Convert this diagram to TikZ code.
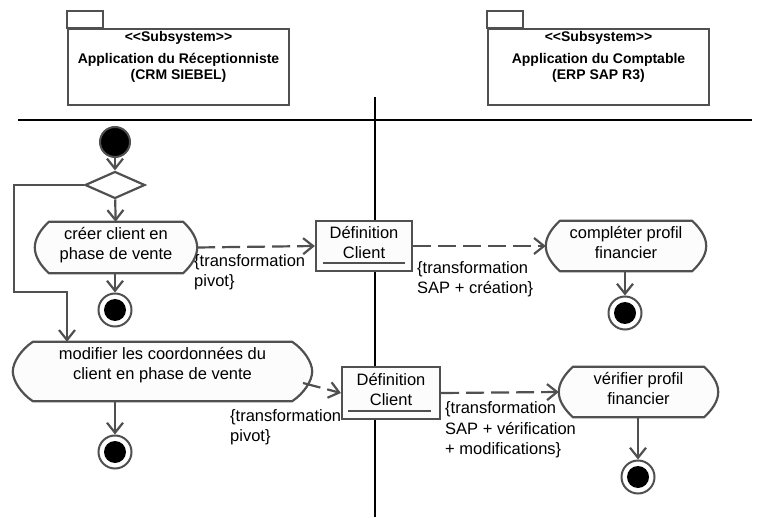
\documentclass[tikz,border=0pt]{standalone}
\usepackage{fontspec}
\setmainfont{Liberation Sans}
\usetikzlibrary{arrows.meta,shapes.geometric,calc,backgrounds}
\definecolor{lc}{HTML}{505050}
\definecolor{actfill}{HTML}{FCFCFC}
\newcommand{\bodyfont}{\fontsize{16.5}{20.5}\selectfont}
\newcommand{\headfont}{\fontsize{14}{16}\selectfont\bfseries}
\tikzset{
  ln/.style={draw=lc, line width=2.2pt},
  arr/.style={ln, -{Straight Barb[length=10pt,width=16pt]}},
  darr/.style={arr, dash pattern=on 18pt off 7pt},
  action/.style={rectangle, align=center, font=\bodyfont, inner sep=0pt},
  actline/.style={ln, fill=actfill, line join=round},
  objbox/.style={draw=lc, line width=2.2pt, fill=actfill, align=center,
    font=\bodyfont, inner sep=0pt},
  pkg/.style={draw=lc, line width=2pt, fill=white, inner sep=0pt,
    minimum width=221pt, minimum height=76pt},
  pkgtext/.style={align=center, font=\headfont, inner sep=0pt},
  startnode/.style={circle, fill=black, draw=lc, line width=2pt, minimum size=30pt, inner sep=0pt},
  finalnode/.style={circle, draw=lc, line width=2pt, fill=white, minimum size=33pt, inner sep=0pt,
    path picture={\fill[black] (path picture bounding box.center) circle (11pt);}},
  decision/.style={diamond, draw=lc, line width=2.2pt, fill=white, minimum width=60pt,
    minimum height=27pt, inner sep=0pt},
  lab/.style={align=left, font=\bodyfont, inner sep=0pt, anchor=west},
  lane/.style={draw=black, line width=1.4pt}
}
% outline of an action node: #1 node name, #2 corner inset
\newcommand{\actoutline}[2]{%
  \begin{scope}[on background layer]
  \draw[actline] ($(#1.north west)+(#2,0)$) -- ($(#1.north east)+(-#2,0)$)
    .. controls +(0.6*#2,8) and +(0,-9) .. (#1.east)
    .. controls +(0,9) and +(0.6*#2,-8) .. ($(#1.south east)+(-#2,0)$)
    -- ($(#1.south west)+(#2,0)$)
    .. controls +(-0.6*#2,-8) and +(0,9) .. (#1.west)
    .. controls +(0,-9) and +(-0.6*#2,8) .. ($(#1.north west)+(#2,0)$) -- cycle;
  \end{scope}}
\begin{document}
\begin{tikzpicture}[x=1pt,y=-1pt]
\path[use as bounding box] (0,0) rectangle (765,518);
% swimlanes
\coordinate (hl) at (18,120);
\coordinate (hr) at (752,120);
\coordinate (vt) at (375,97);
\coordinate (vb) at (375,517);
\draw[lane] (hl) -- (hr);
\draw[lane] (vt) -- (vb);
% packages
\node[pkg] (pkg1) at (178.5,67.5) {};
\draw[draw=lc, line width=2pt] (pkg1.north west) rectangle ++(36,-17);
\node[pkgtext] (pkg1s) at (178.5,38) {{<}{<}Subsystem{>}{>}};
\node[pkgtext] (pkg1n) at (178.5,68) {Application du Réceptionniste\\(CRM SIEBEL)};
\node[pkg] (pkg2) at (598.5,67.5) {};
\draw[draw=lc, line width=2pt] (pkg2.north west) rectangle ++(36,-17);
\node[pkgtext] (pkg2s) at (598.5,38) {{<}{<}Subsystem{>}{>}};
\node[pkgtext] (pkg2n) at (598.5,68) {Application du Comptable\\(ERP SAP R3)};
% nodes
\node[startnode] (start) at (115,142) {};
\node[decision] (dec) at (115,185) {};
\node[action, minimum width=162pt, minimum height=51pt] (act1) at (116,247.5) {créer client en\\phase de vente\\[-12pt]};
\actoutline{act1}{14}
\node[finalnode] (fin1) at (115,310) {};
\node[action, minimum width=299pt, minimum height=59pt] (act3) at (162.5,371.5) {modifier les coordonnées du\\client en phase de vente\\[-4pt]};
\actoutline{act3}{20}
\node[finalnode] (fin3) at (115,452) {};
\node[objbox, minimum width=96pt, minimum height=50pt] (obj1) at (364,246) {Définition\\Client\\[-13pt]};
\draw[ln] (323,263) coordinate (u1a) -- (405,263) coordinate (u1b);
\node[objbox, minimum width=98pt, minimum height=52pt] (obj2) at (391,393) {Définition\\Client\\[-13pt]};
\draw[ln] (348,411) coordinate (u2a) -- (431,411) coordinate (u2b);
\node[action, minimum width=160pt, minimum height=50pt] (act2) at (626,246) {compléter profil\\financier\\[-13pt]};
\actoutline{act2}{14}
\node[finalnode] (fin2) at (625,313) {};
\node[action, minimum width=159pt, minimum height=50pt] (act4) at (638.5,392) {vérifier profil\\financier\\[-13pt]};
\actoutline{act4}{14}
\node[finalnode] (fin4) at (638,477) {};
% connectors
\draw[arr] (start) -- (dec);
\draw[arr] (dec) -- (act1);
\draw[arr] (fin1 |- act1.south) -- (fin1);
\coordinate (l1) at (14,185);
\coordinate (l2) at (14,292);
\coordinate (l3) at (67,292);
\draw[arr] (dec.west) -- (l1) -- (l2) -- (l3) -- (l3 |- act3.north);
\draw[arr] (fin3 |- act3.south) -- (fin3);
\draw[arr] (fin2 |- act2.south) -- (fin2);
\draw[arr] (fin4 |- act4.south) -- (fin4);
\draw[darr] (act1.east) -- (obj1.west);
\draw[darr] (obj1.east) -- (act2.west);
\coordinate (a3out) at (303,383);
\draw[darr] (a3out) -- (obj2.west);
\draw[darr] (obj2.east) -- (act4.west);
% labels
\node[lab] (lab1) at (194,272) {\{transformation\\pivot\}};
\node[lab] (lab2) at (417,279) {\{transformation\\SAP + création\}};
\node[lab] (lab3) at (230,427) {\{transformation\\pivot\}};
\node[lab] (lab4) at (445,430) {\{transformation\\SAP + vérification\\+ modifications\}};
\end{tikzpicture}
\end{document}
